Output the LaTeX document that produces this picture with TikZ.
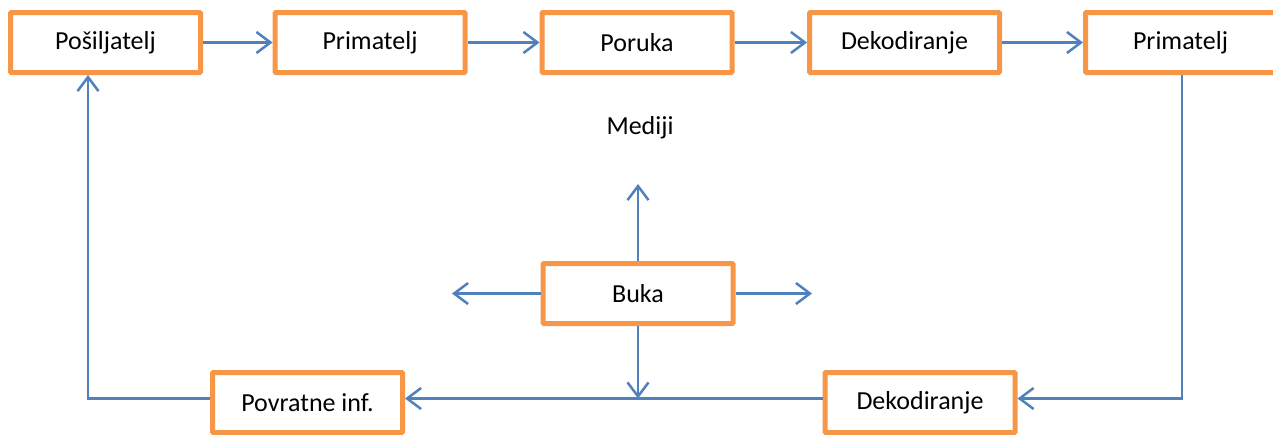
\documentclass[tikz,border=0pt]{standalone}
\usepackage{fontspec}
\setmainfont{Carlito}
\usetikzlibrary{arrows.meta}
\definecolor{boxorange}{HTML}{F79646}
\definecolor{lineblue}{HTML}{4F81BD}
\begin{document}
\begin{tikzpicture}[x=1pt,y=-1pt,
  box/.style={draw=boxorange,line width=5pt,fill=white,rounded corners=1pt,
    minimum width=190pt,minimum height=60pt,inner sep=0pt,
    font=\fontsize{26pt}{30pt}\selectfont},
  conn/.style={draw=lineblue,line width=2.5pt},
  arr/.style={conn,-{Straight Barb[length=14pt,width=21pt,line width=2.5pt]}}]
\useasboundingbox (0,0) rectangle (1273,434);
\node[box] (pos) at (105.5,42.5) {Pošiljatelj};
\node[box] (pri1) at (370,42.5) {Primatelj};
\node[box] (por) at (637,42.5) {Poruka};
\node[box] (dek1) at (904.5,42.5) {Dekodiranje};
\node[box] (pri2) at (1180.5,42.5) {Primatelj};
\node[box] (buka) at (638,293.5) {Buka};
\node[box] (pov) at (307.5,402.5) {Povratne inf.};
\node[box] (dek2) at (920,402.5) {Dekodiranje};
\node[font=\fontsize{26pt}{30pt}\selectfont] (med) at (640,128) {Mediji};
\coordinate (yl) at (0,398.5);
\coordinate (cl) at (88,398.5);
\coordinate (cr) at (1182,398.5);
\coordinate (bu) at (638,184);
\coordinate (bl) at (452,293.5);
\coordinate (br) at (812,293.5);
\draw[arr] (pos) -- (pri1);
\draw[arr] (pri1) -- (por);
\draw[arr] (por) -- (dek1);
\draw[arr] (dek1) -- (pri2);
\draw[arr] (pov.west |- yl) -- (cl) -- (cl |- pos.south);
\draw[arr] (cr |- pri2.south) -- (cr) -- (dek2.east |- yl);
\draw[arr] (dek2.west |- yl) -- (pov.east |- yl);
\draw[arr] (buka.north) -- (bu);
\draw[arr] (buka.west) -- (bl);
\draw[arr] (buka.east) -- (br);
\draw[arr] (buka.south) -- (buka.south |- yl);
\end{tikzpicture}
\end{document}
